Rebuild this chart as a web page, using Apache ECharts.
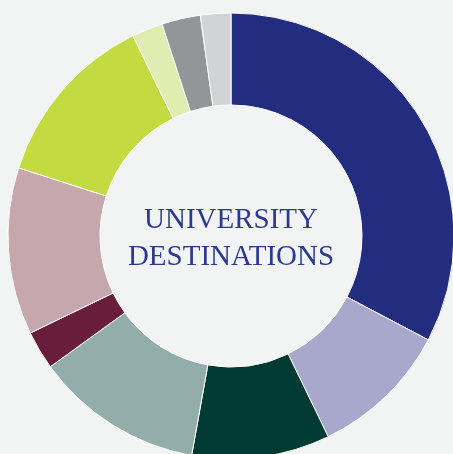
<!DOCTYPE html>
<html>
<head>
<meta charset="utf-8">
<style>
  html, body { margin: 0; padding: 0; background: #f2f4f3; }
  #chart { width: 453px; height: 454px; }
</style>
<script src="https://cdn.jsdelivr.net/npm/echarts@6/dist/echarts.min.js"></script>
</head>
<body>
<div id="chart"></div>
<script>
// slices in clockwise order from 12 o'clock (% share)
const sliceValues = [32.7, 10.1, 10.0, 12.2, 2.8, 12.1, 12.8, 2.25, 2.8, 2.2];
const sliceColors = [
  '#232d80', '#a8a7cc', '#023b33', '#93adab', '#6a1d3a',
  '#c6a7ae', '#c4da41', '#e1edb0', '#939598', '#d1d3d4',
];
const centerTitle = ['UNIVERSITY', 'DESTINATIONS'];

const chart = echarts.init(document.getElementById('chart'));

chart.setOption({
  backgroundColor: '#f2f4f3',
  animation: false,
  graphic: [{
    type: 'text',
    x: 231,
    y: 239,
    style: {
      text: centerTitle.join('\n'),
      align: 'center',
      verticalAlign: 'middle',
      font: '29px "Liberation Serif", serif',
      lineHeight: 37,
      fill: '#2b3990',
    },
  }],
  series: [{
    type: 'pie',
    center: [231, 236],
    radius: [131, 223],
    startAngle: 90,
    clockwise: true,
    silent: true,
    label: { show: false },
    labelLine: { show: false },
    itemStyle: { borderColor: '#ffffff', borderWidth: 1 },
    data: sliceValues.map((v, i) => ({ value: v, itemStyle: { color: sliceColors[i] } })),
  }],
});
</script>
</body>
</html>
